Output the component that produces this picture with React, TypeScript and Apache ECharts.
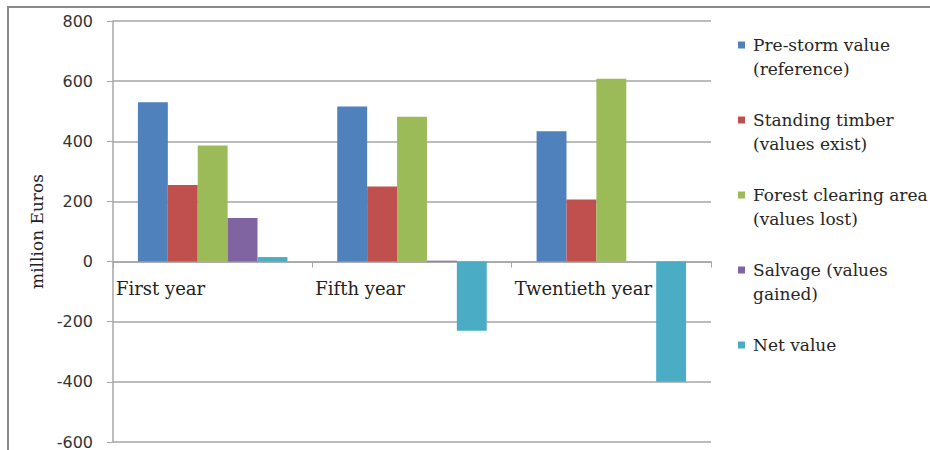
import React, { useEffect, useRef } from "react";
import * as echarts from "echarts";

const CATEGORIES = ["First year", "Fifth year", "Twentieth year"];
const SERIES_NAMES = [
  "Pre-storm value (reference)",
  "Standing timber (values exist)",
  "Forest clearing area (values lost)",
  "Salvage (values gained)",
  "Net value",
];
const LEGEND_LINES = [
  ["Pre-storm value", "(reference)"],
  ["Standing timber", "(values exist)"],
  ["Forest clearing area", "(values lost)"],
  ["Salvage (values", "gained)"],
  ["Net value"],
];
const PRE_STORM = [530, 516, 433];
const STANDING = [255, 250, 206];
const CLEARING = [386, 482, 608];
const SALVAGE = [145, 3, 0];
const NET = [15, -230, -400];
const COLORS = ["#4F81BD", "#C0504D", "#9BBB59", "#8064A2", "#4BACC6"];
const Y_MIN = -600;
const Y_MAX = 800;
const Y_STEP = 200;

const GRID_TOP = 21;
const GRID_BOTTOM = 8;
const CHART_H = 450;

export default function App() {
  const ref = useRef<HTMLDivElement>(null);
  useEffect(() => {
    document.body.style.margin = "0";
    if (!ref.current) return;
    const chart = echarts.init(ref.current, null, { renderer: "svg" });
    const values = [PRE_STORM, STANDING, CLEARING, SALVAGE, NET];
    const plotH = CHART_H - GRID_TOP - GRID_BOTTOM;
    const zeroOffset = -plotH * (0 - Y_MIN) / (Y_MAX - Y_MIN);
    const rich: any = {
      t: { fontFamily: "DejaVu Serif", fontSize: 17, lineHeight: 24, color: "#262626" },
      g: { width: 8, height: 7 },
      s: { width: 15, height: 7 },
    };
    COLORS.forEach((c, i) => {
      rich["m" + i] = { width: 7, height: 7, backgroundColor: c };
    });
    chart.setOption({
      animation: false,
      backgroundColor: "#ffffff",
      grid: { left: 113, right: 219, top: GRID_TOP, bottom: GRID_BOTTOM, outerBoundsMode: "none", containLabel: false },
      graphic: [
        {
          type: "rect",
          shape: { x: 8, y: 7, width: 960, height: 480 },
          style: { fill: "none", stroke: "#8a8a8a", lineWidth: 2 },
          silent: true,
        },
      ],
      legend: {
        orient: "vertical",
        left: 728,
        top: 28,
        itemGap: 27,
        itemWidth: 0,
        itemHeight: 7,
        icon: "none",
        selectedMode: false,
        data: SERIES_NAMES,
        formatter: (name: string) => {
          const i = SERIES_NAMES.indexOf(name);
          const lines = LEGEND_LINES[i];
          let s = `{m${i}|}{g|}{t|${lines[0]}}`;
          if (lines[1]) s += `\n{s|}{t|${lines[1]}}`;
          return s;
        },
        textStyle: { rich, lineHeight: 24, fontFamily: "DejaVu Serif", fontSize: 17 },
      },
      xAxis: [
        {
          type: "category",
          data: CATEGORIES,
          axisLine: { show: true, onZero: true, lineStyle: { color: "#a6a6a6", width: 1.5 } },
          axisTick: { show: true, length: 6, lineStyle: { color: "#a6a6a6" } },
          axisLabel: { show: false },
          splitLine: { show: false },
        },
        {
          type: "category",
          position: "bottom",
          boundaryGap: false,
          offset: zeroOffset,
          data: [...CATEGORIES, ""],
          axisLine: { show: false, onZero: false },
          axisTick: { show: false },
          axisLabel: {
            show: true,
            align: "left",
            margin: 18,
            fontFamily: "DejaVu Serif",
            fontSize: 18,
            color: "#222",
            padding: [0, 0, 0, 3],
          },
          splitLine: { show: false },
        },
      ],
      yAxis: {
        type: "value",
        min: Y_MIN,
        max: Y_MAX,
        interval: Y_STEP,
        name: "million Euros",
        nameLocation: "middle",
        nameGap: 66,
        nameTextStyle: { fontFamily: "DejaVu Serif", fontSize: 17, color: "#222" },
        axisLine: { show: true, lineStyle: { color: "#a6a6a6", width: 1.5 } },
        axisTick: { show: true, length: 6, lineStyle: { color: "#a6a6a6" } },
        axisLabel: { fontFamily: "DejaVu Sans", fontSize: 16, color: "#333", margin: 20 },
        splitLine: { show: true, lineStyle: { color: "#a6a6a6", width: 1.5 } },
      },
      series: SERIES_NAMES.map((name, i) => ({
        name,
        type: "bar",
        xAxisIndex: 0,
        data: values[i],
        itemStyle: { color: COLORS[i] },
        barGap: "0%",
        barCategoryGap: "25%",
      })),
    });
    return () => chart.dispose();
  }, []);
  return <div ref={ref} style={{ width: 930, height: 450 }} />;
}
